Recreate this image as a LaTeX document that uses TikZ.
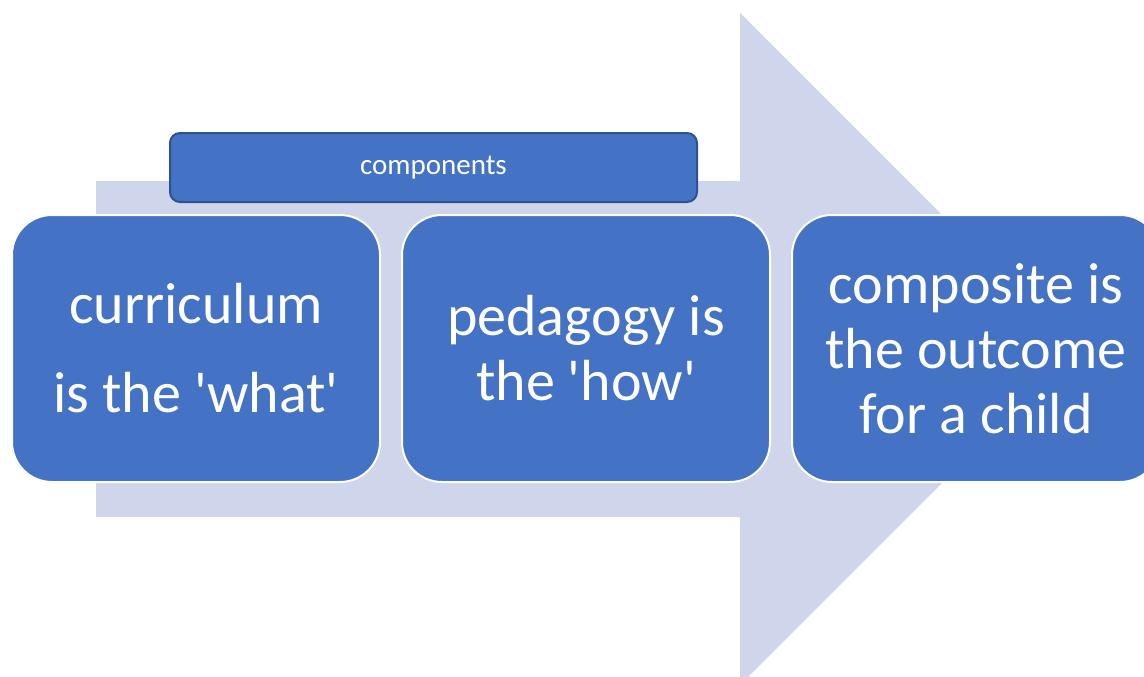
\documentclass[tikz,border=0pt]{standalone}
\usepackage{fontspec}
\setmainfont{Carlito}
\usepackage{tikz}
\usetikzlibrary{positioning}
\definecolor{light}{RGB}{207, 213, 234}
\definecolor{mid}{RGB}{68, 114, 196}
\definecolor{dark}{RGB}{47, 82, 143}

\tikzset{
  stepbox/.style={draw=white, line width=2pt, fill=mid, text=white,
    rounded corners=40pt, minimum width=368pt, minimum height=267pt,
    align=center, inner sep=0pt},
  headbox/.style={draw=dark, line width=2pt, fill=mid, text=white,
    rounded corners=10pt, minimum width=527pt, minimum height=69pt,
    font=\fontsize{29}{35}\selectfont}
}

\begin{document}
\begin{tikzpicture}[x=1pt, y=-1pt]
  \useasboundingbox (0, 0) rectangle (1144, 677);
  \clip (0, 0) rectangle (1144, 677);

  % background arrow
  \fill[light] (96, 181) -- (740, 181) -- (740, 13) -- (1076, 349)
            -- (740, 685) -- (740, 517) -- (96, 517) -- cycle;

  \node[headbox] (comp) at (433.5, 167.5) {components};

  \node[stepbox, font=\fontsize{58}{89}\selectfont] (curr) at (196, 348.5)
    {curriculum\\is the \textquotesingle what\textquotesingle};
  \node[stepbox, font=\fontsize{58}{65}\selectfont, right=20pt of curr] (ped)
    {pedagogy is\\the \textquotesingle how\textquotesingle};
  \node[stepbox, font=\fontsize{58}{65}\selectfont, right=20pt of ped] (outc)
    {composite is\\the outcome\\for a child};
\end{tikzpicture}
\end{document}
